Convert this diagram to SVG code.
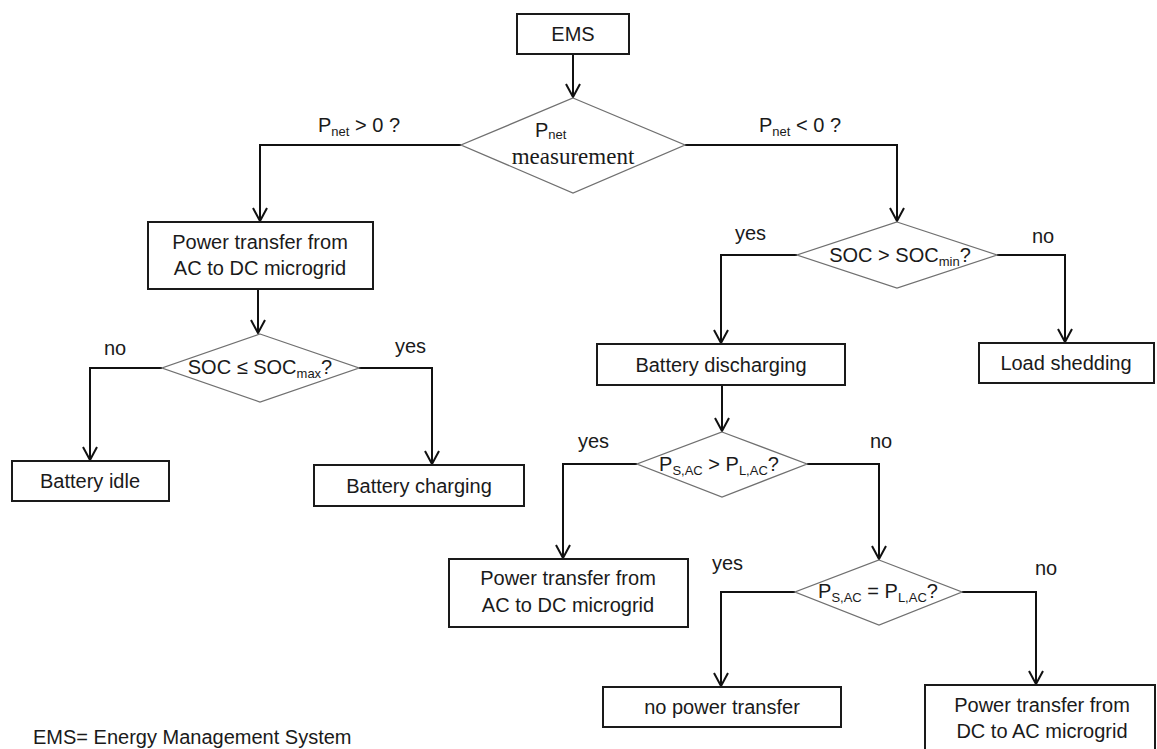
<svg xmlns="http://www.w3.org/2000/svg" width="1157" height="749" viewBox="0 0 1157 749">
<style>
text{font-family:"Liberation Sans",Arial,sans-serif;font-size:20px;fill:#1a1a1a}
.c{text-anchor:middle}
.serif{font-family:"Liberation Serif","Times New Roman",serif;font-size:23px}
.box{fill:#fff;stroke:#1a1a1a;stroke-width:2}
.dia{fill:#fff;stroke:#707070;stroke-width:1.3}
.con{fill:none;stroke:#111;stroke-width:2;marker-end:url(#arr)}
.sub{font-size:13px}
</style>
<defs>
<marker id="arr" markerUnits="userSpaceOnUse" markerWidth="20" markerHeight="20" viewBox="-16 -10 20 20" refX="0" refY="0" orient="auto">
<path d="M-13,-7 L0,0 L-13,7" fill="none" stroke="#111" stroke-width="2" stroke-linejoin="round"/>
</marker>
</defs>
<rect width="1157" height="749" fill="#fff"/>

<g id="connectors">
<path class="con" d="M573,54 V97"/>
<path class="con" d="M461,145 H260 V221"/>
<path class="con" d="M685,145 H897 V221"/>
<path class="con" d="M258,289 V333"/>
<path class="con" d="M162,368 H90 V460"/>
<path class="con" d="M359,368 H432 V464"/>
<path class="con" d="M797,255 H721 V343"/>
<path class="con" d="M997,255 H1065 V342"/>
<path class="con" d="M722,385 V431"/>
<path class="con" d="M637,464 H563 V558"/>
<path class="con" d="M807,464 H879 V559"/>
<path class="con" d="M795,592 H721 V686"/>
<path class="con" d="M962,592 H1036 V684"/>
</g>

<g id="labels">
<text x="318" y="132">P<tspan class="sub" dy="4">net</tspan><tspan dy="-4"> &gt; 0 ?</tspan></text>
<text x="759" y="132">P<tspan class="sub" dy="4">net</tspan><tspan dy="-4"> &lt; 0 ?</tspan></text>
<text x="104" y="355">no</text>
<text x="395" y="353">yes</text>
<text x="735" y="240">yes</text>
<text x="1032" y="243">no</text>
<text x="578" y="448">yes</text>
<text x="870" y="448">no</text>
<text x="712" y="570">yes</text>
<text x="1035" y="575">no</text>
</g>

<g id="ems">
<rect class="box" x="517" y="14" width="112" height="40"/>
<text class="c" x="573" y="41">EMS</text>
</g>

<g id="pnet-measurement">
<polygon class="dia" points="573,98 685,145 573,193 461,145"/>
<text x="535" y="137">P<tspan class="sub" dy="2">net</tspan></text>
<text class="serif c" x="573" y="164">measurement</text>
</g>

<g id="ac-to-dc-1">
<rect class="box" x="148" y="222" width="225" height="67"/>
<text class="c" x="260" y="249">Power transfer from</text>
<text class="c" x="260" y="275">AC to DC microgrid</text>
</g>

<g id="soc-max">
<polygon class="dia" points="260,334 359,368 260,402 162,368"/>
<text class="c" x="260" y="374">SOC ≤ SOC<tspan class="sub" dy="4">max</tspan><tspan dy="-4">?</tspan></text>
</g>

<g id="battery-idle">
<rect class="box" x="12" y="461" width="157" height="40"/>
<text class="c" x="90" y="488">Battery idle</text>
</g>

<g id="battery-charging">
<rect class="box" x="314" y="465" width="210" height="41"/>
<text class="c" x="419" y="493">Battery charging</text>
</g>

<g id="soc-min">
<polygon class="dia" points="897,222 997,255 897,288 797,255"/>
<text class="c" x="900" y="262">SOC &gt; SOC<tspan class="sub" dy="4">min</tspan><tspan dy="-4">?</tspan></text>
</g>

<g id="battery-discharging">
<rect class="box" x="597" y="344" width="248" height="41"/>
<text class="c" x="721" y="372">Battery discharging</text>
</g>

<g id="load-shedding">
<rect class="box" x="979" y="343" width="175" height="40"/>
<text class="c" x="1066" y="370">Load shedding</text>
</g>

<g id="ps-gt-pl">
<polygon class="dia" points="722,432 807,464 722,497 637,464"/>
<text class="c" x="719" y="471">P<tspan class="sub" dy="4">S,AC</tspan><tspan dy="-4"> &gt; P</tspan><tspan class="sub" dy="4">L,AC</tspan><tspan dy="-4">?</tspan></text>
</g>

<g id="ac-to-dc-2">
<rect class="box" x="449" y="559" width="239" height="68"/>
<text class="c" x="568" y="585">Power transfer from</text>
<text class="c" x="568" y="612">AC to DC microgrid</text>
</g>

<g id="ps-eq-pl">
<polygon class="dia" points="879,560 962,592 879,625 795,592"/>
<text class="c" x="878" y="598">P<tspan class="sub" dy="4">S,AC</tspan><tspan dy="-4"> = P</tspan><tspan class="sub" dy="4">L,AC</tspan><tspan dy="-4">?</tspan></text>
</g>

<g id="no-power-transfer">
<rect class="box" x="603" y="687" width="238" height="40"/>
<text class="c" x="722" y="714">no power transfer</text>
</g>

<g id="dc-to-ac">
<rect class="box" x="925" y="685" width="230" height="80"/>
<text class="c" x="1042" y="712">Power transfer from</text>
<text class="c" x="1042" y="738">DC to AC microgrid</text>
</g>

<g id="footnote">
<text x="33" y="744">EMS= Energy Management System</text>
</g>
</svg>
